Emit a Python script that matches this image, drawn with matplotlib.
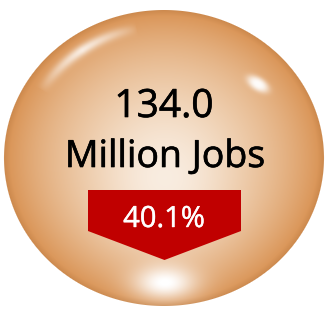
"""
Glossy bubble badge: total jobs with the percentage change arrow underneath.
"""

import numpy as np
import matplotlib
matplotlib.use("Agg")
import matplotlib.pyplot as plt
import matplotlib.patheffects as pe
from matplotlib.patches import Polygon

# --- data -------------------------------------------------------------
headline_value = [134.0]
headline_unit = ["Million Jobs"]
change_pct = [40.1]

W, H = 327, 312
FONT = ["Open Sans", "DejaVu Sans"]


def sphere_image(cx, cy, rx, ry):
    """RGBA image of an orange glossy ball (pure decoration)."""
    y, x = np.mgrid[0:H, 0:W] + 0.5
    nx = (x - cx) / rx
    ny = (y - cy) / ry
    r = np.sqrt(nx ** 2 + ny ** 2)

    c_mid = np.array([0.94, 0.82, 0.70])
    c_edge = np.array([0.85, 0.57, 0.32])
    t = np.clip(r, 0, 1) ** 2.4
    img = c_mid * (1 - t[..., None]) + c_edge * t[..., None]

    # soft white glow behind the text
    g = np.exp(-((x - 165) ** 2 / (2 * 45 ** 2) + (y - 180) ** 2 / (2 * 50 ** 2)))
    # bright spot near the bottom
    g2 = np.exp(-((x - 165) ** 2 / (2 * 22 ** 2) + (y - 283) ** 2 / (2 * 12 ** 2)))
    # specular highlight upper right
    dx, dy = x - 258, y - 84
    a = np.deg2rad(32)
    u = dx * np.cos(a) + dy * np.sin(a)
    v = -dx * np.sin(a) + dy * np.cos(a)
    g3 = np.exp(-((u / 12) ** 2 + (v / 6.5) ** 2) ** 1.5)
    # crescent highlight top-left
    ang = np.degrees(np.arctan2(ny, nx))
    band = np.exp(-((r - 0.89) / 0.035) ** 2)
    arc = np.clip(1 - np.abs(ang + 125) / 24, 0, 1) ** 0.7
    g4 = band * arc * 0.8

    glow = np.clip(0.6 * g + 0.95 * g2 + 0.95 * g3 + g4, 0, 1)
    img = img * (1 - glow[..., None]) + glow[..., None]

    # darker rim
    rim = np.clip((r - 0.96) / 0.04, 0, 1)
    img = img * (1 - 0.06 * rim[..., None])

    alpha = np.clip((1 - r) * min(rx, ry) + 0.5, 0, 1)
    return np.dstack([np.clip(img, 0, 1), alpha])


fig = plt.figure(figsize=(W / 100, H / 100), dpi=100)
ax = fig.add_axes([0, 0, 1, 1])
ax.set_xlim(0, W)
ax.set_ylim(H, 0)
ax.axis("off")

ax.imshow(sphere_image(164, 158, 160, 148), extent=(0, W, H, 0), interpolation="bilinear")

# down arrow banner
left, right, top, body_bottom, tip = 88, 241, 190, 231, 260
mid = (left + right) / 2
ax.add_patch(Polygon([(left, top), (right, top), (right, body_bottom), (mid, tip),
                      (left, body_bottom)], closed=True, facecolor="#C00000",
                     edgecolor="none"))

thick_k = [pe.withStroke(linewidth=0.45, foreground="black")]
thick_w = [pe.withStroke(linewidth=0.3, foreground="white")]
ax.text(164, 117, f"{headline_value[0]:.1f}", ha="center", va="baseline",
        fontsize=28, color="black", family=FONT, path_effects=thick_k)
ax.text(165, 167, headline_unit[0], ha="center", va="baseline",
        fontsize=27, color="black", family=FONT, path_effects=thick_k)
ax.text(164, 227, f"{change_pct[0]:.1f}%", ha="center", va="baseline",
        fontsize=21, color="white", family=FONT, path_effects=thick_w)

fig.savefig("out.png", dpi=100)
